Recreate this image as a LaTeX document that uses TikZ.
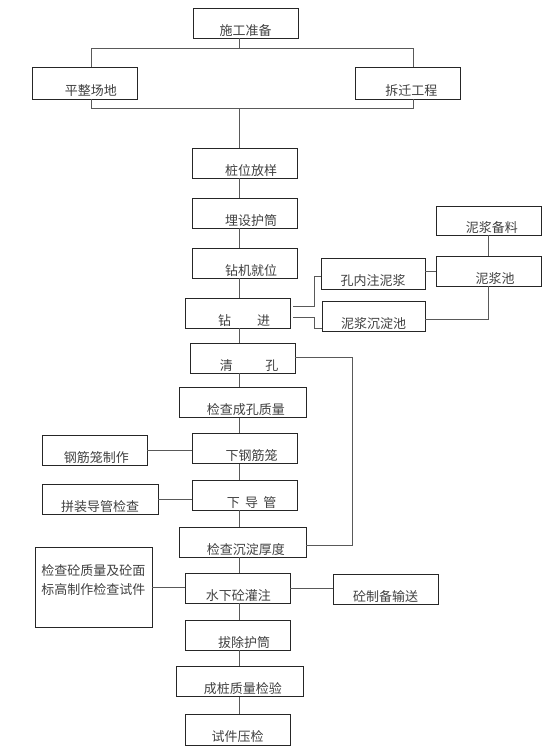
\documentclass[tikz,border=0pt]{standalone}
\usepackage{fontspec}
\newfontfamily\cjk{Noto Sans CJK SC}
\usepackage{tikz}
\usetikzlibrary{calc}

\newcommand{\lpad}[1][1em]{\hspace{#1}}

\begin{document}
\begin{tikzpicture}[
  x=1pt, y=-1pt,
  box/.style={draw=black!85, line width=0.9pt, minimum width=105, minimum height=30, inner xsep=2pt, inner ysep=0pt, text height=24pt, text depth=0pt, font=\cjk\fontsize{13}{15}\selectfont, text=black!75},
  wide/.style={box, minimum width=127},
  txt/.style={font=\cjk\fontsize{13}{19}\selectfont, text=black!75, align=center},
  conn/.style={draw=black!65, line width=0.9pt}
]
\useasboundingbox (0,0) rectangle (555,753);
\node[box] (sgzb) at (245.5,23) {施工准备};
\node[box, minimum height=32] (pzcd) at (84.5,83) {\lpad{}平整场地};
\node[box, minimum height=32] (cqgc) at (407.5,83) {\lpad[0.6em]拆迁工程};
\node[box] (zwfy) at (244.5,163) {\lpad{}桩位放样};
\node[box] (msht) at (244.5,213) {\lpad{}埋设护筒};
\node[box] (zjjw) at (244.5,263) {\lpad{}钻机就位};
\node[box] (zj) at (237.5,313) {\lpad{}钻\hspace{2em}进};
\node[box, minimum width=104, minimum height=31] (knzn) at (373,273.5) {孔内注泥浆};
\node[box, minimum width=103] (njcd) at (373.5,316) {泥浆沉淀池};
\node[box, minimum height=29] (njbl) at (488.5,220.5) {\lpad[0.5em]泥浆备料};
\node[box] (njc) at (488.5,271) {\lpad{}泥浆池};
\node[box] (qk) at (242.5,358) {\lpad{}清\hspace{2.5em}孔};
\node[wide] (jccz) at (242.5,402.5) {\lpad[0.5em]检查成孔质量};
\node[box] (xgjl) at (244.5,448.5) {\lpad[1.1em]下钢筋笼};
\node[box] (gjlzz) at (94.5,450.5) {\lpad[0.3em]钢筋笼制作};
\node[box] (xdg) at (244.5,495) {\lpad[1.1em]下\hspace{0.4em}导\hspace{0.4em}管};
\node[box, minimum width=116] (pzdg) at (100,499) {拼装导管检查};
\node[wide] (jccd) at (242.5,542) {\lpad[0.5em]检查沉淀厚度};
\node[box, minimum width=117, minimum height=80, label={[txt, anchor=north, yshift=-14pt]north:检查砼质量及砼面\\标高制作检查试件}] (jctz) at (93.5,587) {};
\node[box] (sxgz) at (237.5,588) {\lpad[0.15em]水下砼灌注};
\node[box] (tzbs) at (385.5,589) {砼制备输送};
\node[box] (bcht) at (237.5,635) {\lpad{}拔除护筒};
\node[wide] (cczl) at (239.5,681.5) {\lpad[0.5em]成桩质量检验};
\node[box, minimum height=31] (sjyj) at (237.5,729.5) {试件压检};

\coordinate (tk) at (239,0);
\coordinate (lt) at (91,48);
\coordinate (rt) at (413,48);
\coordinate (lb) at (91,108);
\coordinate (rb) at (413,108);
\draw[conn] (sgzb.south -| tk) -- (tk |- lt);
\draw[conn] (pzcd.north -| lt) -- (lt) -- (rt) -- (cqgc.north -| rt);
\draw[conn] (pzcd.south -| lb) -- (lb) -- (rb) -- (cqgc.south -| rb);
\draw[conn] (tk |- lb) -- (zwfy.north -| tk);
\draw[conn] (zwfy.south -| tk) -- (msht.north -| tk);
\draw[conn] (msht.south -| tk) -- (zjjw.north -| tk);
\draw[conn] (zjjw.south -| tk) -- (zj.north -| tk);
\draw[conn] (zj.south -| tk) -- (qk.north -| tk);
\draw[conn] (qk.south -| tk) -- (jccz.north -| tk);
\draw[conn] (jccz.south -| tk) -- (xgjl.north -| tk);
\draw[conn] (xgjl.south -| tk) -- (xdg.north -| tk);
\draw[conn] (xdg.south -| tk) -- (jccd.north -| tk);
\draw[conn] (jccd.south -| tk) -- (sxgz.north -| tk);
\draw[conn] (sxgz.south -| tk) -- (bcht.north -| tk);
\draw[conn] (bcht.south -| tk) -- (cczl.north -| tk);
\draw[conn] (cczl.south -| tk) -- (sjyj.north -| tk);

\coordinate (zj1) at (314,306);
\coordinate (zj2) at (314,317);
\draw[conn] ([xshift=3pt]zj.east |- zj1) -- (zj1) |- ([yshift=-3pt]knzn.west);
\draw[conn] ([xshift=3pt]zj.east |- zj2) -- (zj2) |- ([yshift=-12pt]njcd.west);
\draw[conn] (knzn.east |- njc.west) -- (njc.west);
\draw[conn] (njbl.south) -- (njc.north);
\draw[conn] (njc.south) |- ([yshift=-3pt]njcd.east);
\coordinate (qr) at (352,357);
\draw[conn] (qk.east |- qr) -- (qr) |- ([yshift=-3pt]jccd.east);
\draw[conn] (gjlzz.east) -- (gjlzz.east -| xgjl.west);
\draw[conn] (pzdg.east) -- (pzdg.east -| xdg.west);
\draw[conn] (jctz.east) -- (jctz.east -| sxgz.west);
\draw[conn] (sxgz.east) -- (sxgz.east -| tzbs.west);
\end{tikzpicture}
\end{document}
